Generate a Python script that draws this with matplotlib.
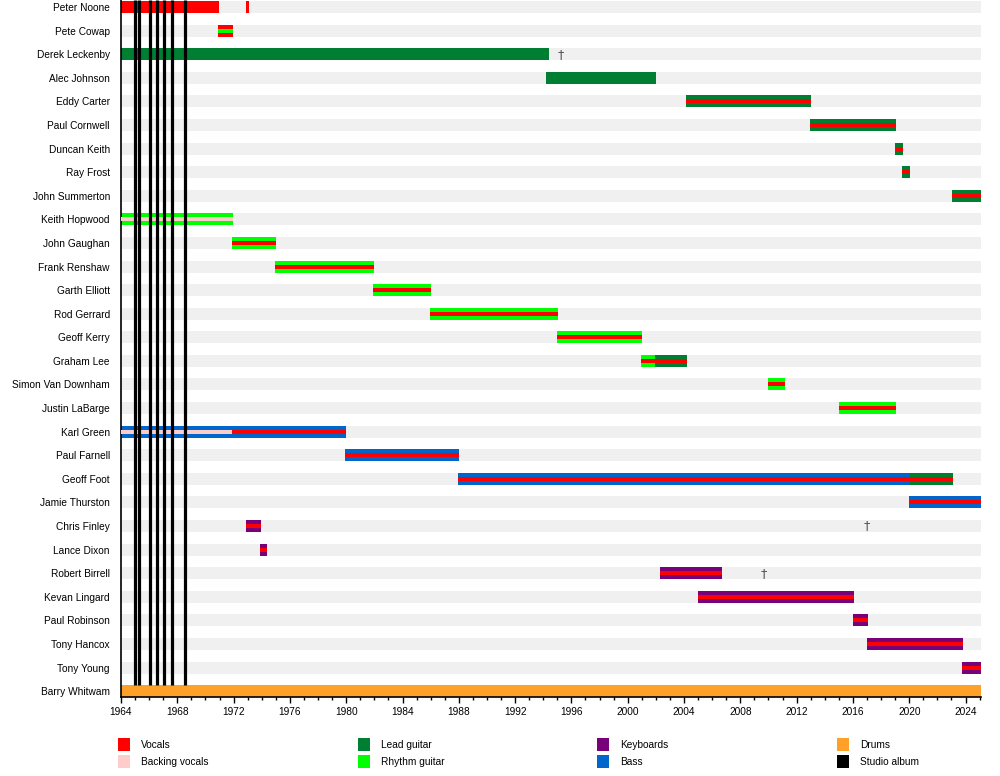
import matplotlib
matplotlib.use("Agg")
import matplotlib.pyplot as plt
from matplotlib.patches import Rectangle
from matplotlib.ticker import MultipleLocator

plt.rcParams["font.family"] = ["Liberation Sans", "DejaVu Sans"]

# band members, top to bottom
members = [
    "Peter Noone", "Pete Cowap", "Derek Leckenby", "Alec Johnson", "Eddy Carter",
    "Paul Cornwell", "Duncan Keith", "Ray Frost", "John Summerton", "Keith Hopwood",
    "John Gaughan", "Frank Renshaw", "Garth Elliott", "Rod Gerrard", "Geoff Kerry",
    "Graham Lee", "Simon Van Downham", "Justin LaBarge", "Karl Green", "Paul Farnell",
    "Geoff Foot", "Jamie Thurston", "Chris Finley", "Lance Dixon", "Robert Birrell",
    "Kevan Lingard", "Paul Robinson", "Tony Hancox", "Tony Young", "Barry Whitwam",
]

END = 2025.1

# stints: member, start, end, main role, second role (thin inner bar)
stint_member = [
    "Peter Noone", "Peter Noone", "Pete Cowap", "Derek Leckenby", "Alec Johnson",
    "Eddy Carter", "Paul Cornwell", "Duncan Keith", "Ray Frost", "John Summerton",
    "Keith Hopwood", "John Gaughan", "Frank Renshaw", "Garth Elliott", "Rod Gerrard",
    "Geoff Kerry", "Graham Lee", "Graham Lee", "Simon Van Downham", "Justin LaBarge",
    "Karl Green", "Karl Green", "Paul Farnell", "Geoff Foot", "Geoff Foot",
    "Jamie Thurston", "Chris Finley", "Lance Dixon", "Robert Birrell", "Kevan Lingard",
    "Paul Robinson", "Tony Hancox", "Tony Young", "Barry Whitwam",
]
stint_start = [
    1964.0, 1972.88, 1970.9, 1964.0, 1994.19,
    2004.14, 2012.95, 2018.98, 2019.48, 2023.03,
    1964.0, 1971.9, 1974.94, 1981.9, 1985.95,
    1994.97, 2000.94, 2001.93, 2009.96, 2015.0,
    1964.0, 1971.9, 1979.9, 1987.94, 2019.98,
    2019.98, 1972.88, 1973.87, 2002.29, 2004.99,
    2015.99, 2016.99, 2023.74, 1964.0,
]
stint_end = [
    1970.96, 1973.07, 1971.96, 1994.4, 2002.0,
    2013.02, 2019.05, 2019.55, 2020.05, END,
    1971.96, 1975.0, 1981.97, 1986.02, 1995.04,
    2001.0, 2001.93, 2004.2, 2011.17, 2019.05,
    1971.9, 1980.0, 1988.0, 2019.98, 2023.1,
    END, 1973.95, 1974.37, 2006.7, 2016.07,
    2017.06, 2023.81, END, END,
]
stint_main = [
    "Vocals", "Vocals", "Vocals", "Lead guitar", "Lead guitar",
    "Lead guitar", "Lead guitar", "Lead guitar", "Lead guitar", "Lead guitar",
    "Rhythm guitar", "Rhythm guitar", "Rhythm guitar", "Rhythm guitar", "Rhythm guitar",
    "Rhythm guitar", "Rhythm guitar", "Lead guitar", "Rhythm guitar", "Rhythm guitar",
    "Bass", "Bass", "Bass", "Bass", "Lead guitar",
    "Bass", "Keyboards", "Keyboards", "Keyboards", "Keyboards",
    "Keyboards", "Keyboards", "Keyboards", "Drums",
]
stint_second = [
    None, None, "Rhythm guitar", None, None,
    "Vocals", "Vocals", "Vocals", "Vocals", "Vocals",
    "Backing vocals", "Vocals", "Vocals", "Vocals", "Vocals",
    "Vocals", "Vocals", "Vocals", "Vocals", "Vocals",
    "Backing vocals", "Vocals", "Vocals", "Vocals", "Vocals",
    "Vocals", "Vocals", "Vocals", "Vocals", "Vocals",
    "Vocals", "Vocals", "Vocals", None,
]

album_years = [1965.03, 1965.31, 1966.06, 1966.57, 1967.07, 1967.62, 1968.57]

death_member = ["Derek Leckenby", "Chris Finley", "Robert Birrell"]
death_year = [1995.26, 2016.97, 2009.68]

legend_labels = [
    "Vocals", "Backing vocals", "Lead guitar", "Rhythm guitar",
    "Keyboards", "Bass", "Drums", "Studio album",
]
role_colors = {
    "Vocals": "#ff0000",
    "Backing vocals": "#ffcccc",
    "Lead guitar": "#007f33",
    "Rhythm guitar": "#00ff00",
    "Keyboards": "#780078",
    "Bass": "#0066cc",
    "Drums": "#ffa028",
    "Studio album": "#000000",
}

fig = plt.figure(figsize=(10, 7.76), dpi=100)
ax = fig.add_axes([0.121, 0.1018, 0.86, 0.8982])

rows = {name: i for i, name in enumerate(members)}
BAR_H = 0.51
INNER_H = 0.17

# light background stripe on every row
ax.barh(range(len(members)), END - 1964, left=1964, height=BAR_H,
        color="#f0f0f0", zorder=0)

for m, s, e, main, sec in zip(stint_member, stint_start, stint_end, stint_main, stint_second):
    y = rows[m]
    ax.barh(y, e - s, left=s, height=BAR_H, color=role_colors[main], zorder=2, linewidth=0)
    if sec is not None:
        ax.barh(y, e - s, left=s, height=INNER_H, color=role_colors[sec], zorder=3, linewidth=0)

# studio albums
ax.vlines(album_years, -0.3, len(members) - 1 - BAR_H / 2, color="black", lw=2.3, zorder=4)

for m, yr in zip(death_member, death_year):
    ax.text(yr, rows[m], "\u2020", color="#555555", fontsize=9, ha="center", va="center",
            family=["DejaVu Sans"], zorder=5)

ax.set_xlim(1964, END)
ax.set_ylim(len(members) - 1 + 0.25, -0.3)
ax.set_yticks(range(len(members)))
ax.set_yticklabels(members, fontsize=7.3)
ax.tick_params(axis="y", length=0, pad=8)
ax.xaxis.set_major_locator(MultipleLocator(4))
ax.xaxis.set_minor_locator(MultipleLocator(1))
ax.tick_params(axis="x", which="major", length=4, width=1, labelsize=7.3, pad=3)
ax.tick_params(axis="x", which="minor", length=2.5, width=1)
for side in ["top", "right"]:
    ax.spines[side].set_visible(False)
for side in ["left", "bottom"]:
    ax.spines[side].set_linewidth(1.2)

# legend, 4 columns x 2 rows
for i, lab in enumerate(legend_labels):
    col, row = divmod(i, 2)
    x0 = 118 + col * 239.7
    y0 = 738 + row * 17
    fig.add_artist(Rectangle((x0 / 1000, 1 - (y0 + 13) / 776), 12 / 1000, 13 / 776,
                             transform=fig.transFigure, color=role_colors[lab], lw=0))
    fig.text((x0 + 23) / 1000, 1 - (y0 + 7) / 776, lab, fontsize=7.3, va="center", ha="left")

fig.savefig("out.png", dpi=100)
